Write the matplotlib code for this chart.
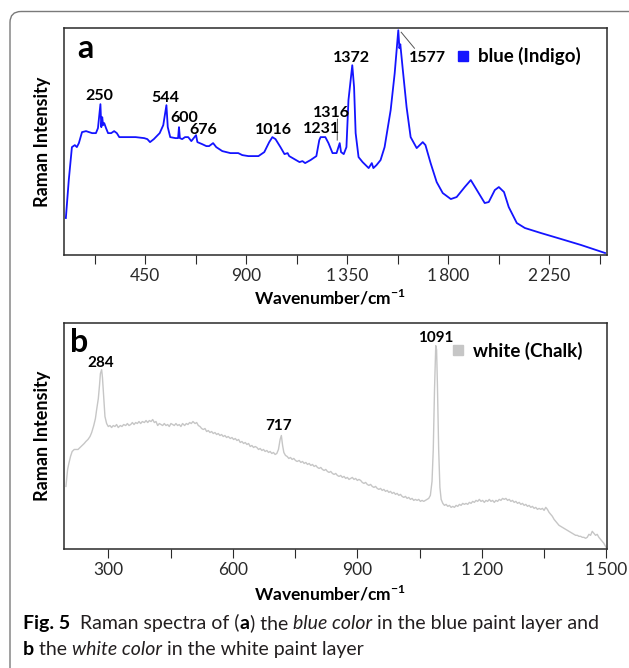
import matplotlib
matplotlib.use('Agg')
import matplotlib.pyplot as plt
from matplotlib.patches import FancyBboxPatch
from matplotlib.lines import Line2D

plt.rcParams['font.family'] = ['Lato', 'DejaVu Sans']
plt.rcParams['mathtext.fontset'] = 'custom'
plt.rcParams['mathtext.rm'] = 'Lato'
plt.rcParams['mathtext.bf'] = 'Lato:bold'

# ---- panel a: blue (Indigo) spectrum ----
blue_wn = [96, 109, 123, 136, 145, 154, 168, 186, 213, 230,
           239, 250, 254, 258, 262, 267, 275, 284, 298, 311,
           323, 334, 373, 407, 445, 459, 471, 488, 514, 530,
           544, 550, 561, 584, 596, 600, 604, 614, 627, 641,
           655, 676, 682, 703, 722, 734, 752, 766, 793, 829,
           864, 882, 909, 954, 980, 1002, 1016, 1030, 1052, 1070,
           1084, 1091, 1114, 1137, 1150, 1162, 1186, 1212, 1225, 1231,
           1252, 1266, 1284, 1302, 1316, 1322, 1334, 1346, 1355, 1372,
           1380, 1387, 1400, 1418, 1445, 1459, 1466, 1480, 1498, 1516,
           1543, 1561, 1577, 1582, 1586, 1596, 1614, 1632, 1659, 1686,
           1698, 1721, 1748, 1775, 1811, 1837, 1873, 1900, 1927, 1962,
           1980, 2007, 2025, 2048, 2069, 2105, 2141, 2212, 2302, 2391,
           2498]
blue_int = [37, 75, 108, 110, 108, 112, 123, 124, 122, 122,
            127, 151, 128, 138, 130, 132, 127, 122, 122, 124,
            122, 118, 118, 118, 117, 116, 113, 116, 122, 130,
            150, 128, 118, 117, 117, 128, 117, 116, 118, 118,
            114, 120, 113, 111, 109, 109, 112, 108, 104, 102,
            102, 100, 99, 99, 103, 113, 118, 116, 108, 101,
            102, 99, 96, 93, 94, 92, 95, 99, 115, 118,
            118, 112, 102, 102, 112, 103, 101, 108, 155, 190,
            168, 122, 98, 93, 87, 92, 87, 90, 95, 108,
            145, 182, 225, 207, 211, 188, 148, 118, 107, 113,
            110, 92, 73, 62, 56, 58, 68, 75, 65, 52,
            53, 65, 68, 63, 48, 32, 27, 22, 16, 10,
            2]

# ---- panel b: white (Chalk) spectrum ----
white_wn = [198, 202, 205, 209, 213, 218, 222, 227, 232, 237,
            242, 246, 251, 256, 260, 265, 269, 272, 276, 279,
            281, 284, 286, 289, 292, 296, 300, 304, 308, 312,
            316, 320, 324, 329, 333, 337, 342, 346, 350, 354,
            358, 362, 366, 370, 374, 378, 382, 387, 391, 395,
            399, 403, 407, 411, 415, 419, 423, 427, 431, 435,
            439, 443, 447, 451, 455, 459, 463, 467, 471, 475,
            479, 484, 488, 492, 496, 500, 504, 509, 513, 517,
            521, 525, 529, 533, 537, 541, 545, 549, 553, 557,
            561, 565, 569, 573, 577, 581, 585, 589, 594, 598,
            602, 606, 610, 614, 618, 622, 626, 630, 634, 638,
            642, 646, 650, 654, 658, 662, 666, 670, 674, 678,
            682, 686, 690, 694, 698, 702, 706, 710, 714, 717,
            720, 723, 727, 731, 735, 739, 743, 747, 751, 755,
            760, 764, 768, 772, 776, 780, 784, 788, 792, 796,
            800, 804, 808, 812, 816, 820, 824, 828, 832, 836,
            840, 844, 848, 852, 856, 860, 864, 868, 872, 876,
            880, 884, 888, 892, 896, 900, 904, 908, 912, 916,
            920, 924, 928, 932, 936, 940, 944, 948, 952, 956,
            960, 964, 968, 972, 976, 980, 984, 988, 992, 996,
            1000, 1004, 1008, 1012, 1016, 1020, 1024, 1028, 1032, 1036,
            1040, 1044, 1048, 1052, 1056, 1060, 1064, 1068, 1072, 1076,
            1080, 1083, 1086, 1089, 1091, 1093, 1096, 1099, 1102, 1106,
            1110, 1114, 1118, 1122, 1126, 1130, 1134, 1138, 1142, 1146,
            1150, 1154, 1158, 1162, 1166, 1170, 1174, 1178, 1182, 1186,
            1190, 1194, 1198, 1202, 1206, 1210, 1214, 1218, 1222, 1226,
            1230, 1234, 1238, 1242, 1246, 1250, 1254, 1258, 1262, 1266,
            1270, 1274, 1278, 1282, 1286, 1290, 1294, 1298, 1302, 1306,
            1310, 1314, 1318, 1322, 1326, 1330, 1334, 1338, 1342, 1346,
            1350, 1354, 1358, 1362, 1366, 1370, 1374, 1378, 1382, 1386,
            1390, 1394, 1398, 1402, 1406, 1410, 1414, 1418, 1422, 1426,
            1430, 1434, 1438, 1442, 1446, 1450, 1454, 1458, 1462, 1466,
            1470, 1474, 1478, 1482, 1486, 1490, 1494, 1498, 1501]
white_int = [63, 80, 86, 93, 98, 100, 100, 100, 102, 104,
             106, 108, 110, 113, 117, 124, 131, 140, 151, 165,
             176, 180, 172, 152, 133, 126, 123, 124, 122, 124,
             123, 125, 122, 124, 123, 125, 124, 126, 124, 125,
             127, 125, 127, 126, 128, 126, 128, 127, 129, 127,
             129, 128, 130, 127, 128, 124, 126, 125, 124, 126,
             124, 125, 123, 126, 125, 124, 126, 124, 125, 123,
             126, 124, 126, 125, 127, 126, 128, 126, 127, 124,
             123, 121, 120, 121, 118, 119, 117, 118, 116, 117,
             115, 116, 114, 115, 113, 114, 112, 113, 111, 112,
             110, 111, 109, 110, 107, 108, 106, 107, 105, 106,
             103, 104, 102, 103, 102, 100, 101, 99, 100, 98,
             99, 97, 98, 96, 97, 95, 96, 100, 110, 114,
             104, 97, 94, 93, 91, 92, 90, 91, 89, 88,
             89, 87, 88, 86, 87, 85, 86, 84, 85, 83,
             84, 82, 81, 82, 80, 79, 80, 78, 77, 78,
             76, 75, 76, 74, 73, 74, 72, 73, 71, 72,
             70, 71, 72, 70, 71, 69, 70, 69, 67, 66,
             67, 65, 64, 65, 63, 62, 63, 61, 60, 61,
             59, 60, 58, 59, 57, 58, 56, 57, 55, 56,
             54, 55, 53, 52, 53, 51, 52, 50, 51, 49,
             50, 49, 50, 48, 49, 48, 49, 50, 51, 54,
             68, 100, 160, 204, 200, 165, 100, 62, 50, 46,
             44, 45, 43, 44, 42, 43, 42, 44, 43, 45,
             44, 46, 45, 46, 45, 47, 46, 48, 47, 49,
             48, 50, 48, 49, 47, 49, 48, 50, 48, 49,
             47, 49, 48, 50, 49, 51, 50, 51, 49, 50,
             48, 49, 47, 48, 46, 47, 45, 46, 44, 45,
             43, 44, 42, 43, 41, 42, 40, 41, 40, 41,
             39, 42, 40, 37, 35, 33, 30, 28, 26, 24,
             23, 22, 21, 20, 19, 18, 17, 16, 15, 14,
             14, 13, 13, 12, 12, 11, 12, 15, 14, 18,
             16, 14, 15, 12, 10, 8, 6, 3, 1]

blue_peaks = [250, 544, 600, 676, 1016, 1231, 1316, 1372, 1577]
white_peaks = [284, 717, 1091]

ticks_a = [450, 900, 1350, 1800, 2250]
minor_a = [225, 675, 1125, 1575, 2025, 2475]
ticks_b = [300, 600, 900, 1200, 1500]
minor_b = [450, 750, 1050, 1350]

# where the peak numbers sit (text anchor, data units)
blue_lab_pos = [(244, 155), (537, 153), (622, 133), (708, 121), (1022, 121),
                (1233, 122), (1280, 138), (1369, 193), (1707, 193)]
white_lab_pos = [(282, 183), (711, 120), (1089, 208)]

BLUE = '#1414ff'
GREY = '#c6c6c6'
DARK = '#2a2a2a'


def tick_text(v):
    return f'{v:,}'.replace(',', '\u2009')


def style_axes(ax, xlim, major, minor):
    ax.set_xlim(*xlim)
    ax.set_ylim(0, 227)
    ax.set_yticks([])
    ax.set_xticks(major, [tick_text(v) for v in major])
    ax.set_xticks(minor, minor=True)
    ax.tick_params(axis='x', which='both', direction='out', length=6.5,
                   width=0.8, color=DARK, labelsize=12.5, labelcolor=DARK, pad=3)
    for sp in ax.spines.values():
        sp.set_color(DARK)
        sp.set_linewidth(1.1)
    ax.set_xlabel(r'Wavenumber/cm$^{\mathbf{-1}}$', fontsize=12.5,
                  fontweight='bold', color='black', va='top')
    ax.set_ylabel('Raman Intensity', fontsize=13, fontweight='bold',
                  color='black')
    ax.yaxis.set_label_coords(-0.024, 0.5)


fig = plt.figure(figsize=(6.29, 6.68), dpi=100)

# background frame (pixel coordinates)
bg = fig.add_axes([0, 0, 1, 1], zorder=-1)
bg.set_xlim(0, 629)
bg.set_ylim(668, 0)
bg.axis('off')
bg.add_patch(FancyBboxPatch((10, 11.5), 700, 700,
                            boxstyle='round,pad=0,rounding_size=11',
                            facecolor='none', edgecolor='#7a7a7a', linewidth=1.0))

# ---- panel a ----
ax1 = fig.add_axes([0.1022, 0.6183, 0.8636, 0.3394])
ax1.plot(blue_wn, blue_int, color=BLUE, lw=1.3)
style_axes(ax1, (89, 2509), ticks_a, minor_a)
ax1.xaxis.set_label_coords(0.489, -0.145)
for p, (tx, ty) in zip(blue_peaks, blue_lab_pos):
    ax1.text(tx, ty, str(p), ha='center', va='baseline', fontsize=11.5,
             fontweight='bold', color='black')
# leader lines for 1316 and 1577
ax1.plot([1306, 1305], [136, 115], color='#555555', lw=0.7)
ax1.plot([1590, 1649], [223, 207], color='#555555', lw=0.7)
ax1.text(0.039, 0.87, 'a', transform=ax1.transAxes, ha='center',
         va='baseline', fontsize=23, fontweight='bold')
ax1.legend(handles=[Line2D([], [], marker='s', ls='none', color=BLUE,
                           markersize=7.5)],
           labels=['blue (Indigo)'], loc='center left',
           bbox_to_anchor=(0.722, 0.876), frameon=False, borderpad=0,
           borderaxespad=0, handlelength=0.65, handletextpad=0.5,
           prop={'size': 13.5, 'weight': 'bold'})

# ---- panel b ----
ax2 = fig.add_axes([0.1022, 0.1777, 0.8631, 0.3392])
ax2.plot(white_wn, white_int, color=GREY, lw=1.0)
style_axes(ax2, (194, 1502), ticks_b, minor_b)
ax2.xaxis.set_label_coords(0.489, -0.155)
for p, (tx, ty) in zip(white_peaks, white_lab_pos):
    ax2.text(tx, ty, str(p), ha='center', va='baseline', fontsize=11,
             fontweight='bold', color='black')
ax2.text(0.027, 0.872, 'b', transform=ax2.transAxes, ha='center',
         va='baseline', fontsize=23, fontweight='bold')
ax2.legend(handles=[Line2D([], [], marker='s', ls='none', color=GREY,
                           markersize=7.5)],
           labels=['white (Chalk)'], loc='center left',
           bbox_to_anchor=(0.714, 0.875), frameon=False, borderpad=0,
           borderaxespad=0, handlelength=0.65, handletextpad=0.5,
           prop={'size': 13.5, 'weight': 'bold'})

# ---- caption (mixed styles, placed piece by piece) ----
renderer = fig.canvas.get_renderer()


def caption_line(x, y, pieces, fs=14):
    for txt, style in pieces:
        kw = {'fontsize': fs, 'color': '#231f20', 'va': 'baseline', 'ha': 'left'}
        if style == 'b':
            kw['fontweight'] = 'bold'
            kw['color'] = 'black'
        elif style == 'i':
            kw['fontstyle'] = 'italic'
        t = bg.text(x, y, txt, **kw)
        bb = t.get_window_extent(renderer)
        x += bb.width


caption_line(23, 629, [('Fig. 5', 'b'), ('  Raman spectra of (', 'n'), ('a', 'b'),
                       (') the ', 'n'), ('blue color', 'i'),
                       (' in the blue paint layer and', 'n')])
caption_line(23, 655, [('b', 'b'), (' the ', 'n'), ('white color', 'i'),
                       (' in the white paint layer', 'n')])

fig.savefig('out.png', dpi=100, facecolor='white')
